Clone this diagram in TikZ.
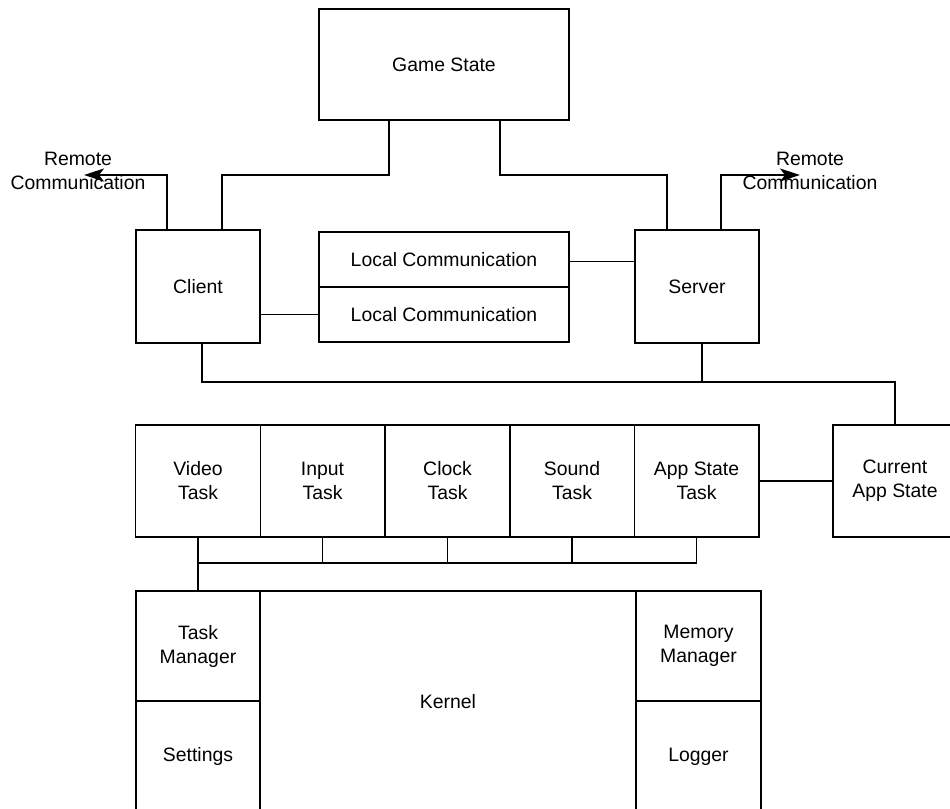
\documentclass[tikz,border=0pt]{standalone}
\usepackage{fontspec}
\setmainfont{Liberation Sans}
\usetikzlibrary{arrows.meta}
\begin{document}
\begin{tikzpicture}[x=0.5pt,y=-0.5pt,
  box/.style={draw, line width=0.7pt, inner sep=0pt, outer sep=0pt, align=center,
    font=\fontsize{9.7}{12}\selectfont, minimum width=62pt, minimum height=56pt},
  wire/.style={line width=0.7pt},
  remote/.style={wire, -{Stealth[length=10pt, width=6.5pt, inset=2.5pt]}},
  lbl/.style={align=center, inner sep=0pt, font=\fontsize{9.7}{12}\selectfont}]
\useasboundingbox (0,0) rectangle (950,809);
\fill[white] (0,0) rectangle (950,809);
\clip (0,0) rectangle (950,809);

% top: shared game state, client, server and local links
\node[box, minimum width=125pt, minimum height=55.5pt] (gs) at (444,64.5) {Game State};
\node[box, minimum height=56.5pt] (client) at (198,286.5) {Client};
\node[box, minimum height=56.5pt] (server) at (697,286.5) {Server};
\node[box, minimum width=125pt, minimum height=27.5pt] (lc1) at (444,259.5) {Local Communication};
\node[box, minimum width=125pt, minimum height=27.5pt] (lc2) at (444,314.5) {Local Communication};

\coordinate (rl) at (84,175);
\coordinate (rr) at (800,175);
\node[lbl] (rlt) at (78,171) {Remote\\Communication};
\node[lbl] (rrt) at (810,171) {Remote\\Communication};

% task row
\node[box, minimum width=62.3pt] (video) at (198,481) {Video\\Task};
\node[box, minimum width=62.3pt] (input) at (322.5,481) {Input\\Task};
\node[box, minimum width=62.3pt] (clock) at (447.5,481) {Clock\\Task};
\node[box, minimum width=62.3pt] (sound) at (572,481) {Sound\\Task};
\node[box, minimum width=62.3pt] (app) at (696.5,481) {App State\\Task};
\node[box] (cas) at (895,481) {Current\\App State};

% kernel row
\node[box, minimum height=55pt] (tm) at (198,646) {Task\\Manager};
\node[box, minimum height=55.5pt] (set) at (198,756.5) {Settings};
\node[box, minimum width=188pt, minimum height=110.5pt] (kernel) at (448,701.5) {Kernel};
\node[box, minimum width=62.5pt, minimum height=55pt] (mm) at (698.5,646) {Memory\\Manager};
\node[box, minimum width=62.5pt, minimum height=55.5pt] (log) at (698.5,756.5) {Logger};

% connectors
\draw[remote] ([xshift=15.5pt]client.north west) |- (rl);
\draw[remote] ([xshift=43pt]server.north west) |- (rr);
\draw[wire] ([xshift=43pt]client.north west) -- ++(0,-55) -| ([xshift=35pt]gs.south west);
\draw[wire] ([xshift=16pt]server.north west) -- ++(0,-55) -| ([xshift=90.5pt]gs.south west);
\draw[wire] ([yshift=-1pt]lc1.east) -- ([yshift=-1pt]lc1.east -| server.west);
\draw[wire] (client.east |- lc2.west) -- (lc2.west);
\draw[wire] ([xshift=33pt]client.south west) -- ++(0,39) -| (cas.north);
\draw[wire] ([xshift=33.5pt]server.south west) -- ++(0,39);
\draw[wire] (app.east) -- (cas.west);
\foreach \t in {video,input,clock,sound,app}
  \draw[wire] (\t.south) -- ++(0,26);
\draw[wire] ([yshift=-13pt]video.south) -- ([yshift=-13pt]app.south);
\draw[wire] ([yshift=-13pt]video.south) -- (tm.north);
\end{tikzpicture}
\end{document}
